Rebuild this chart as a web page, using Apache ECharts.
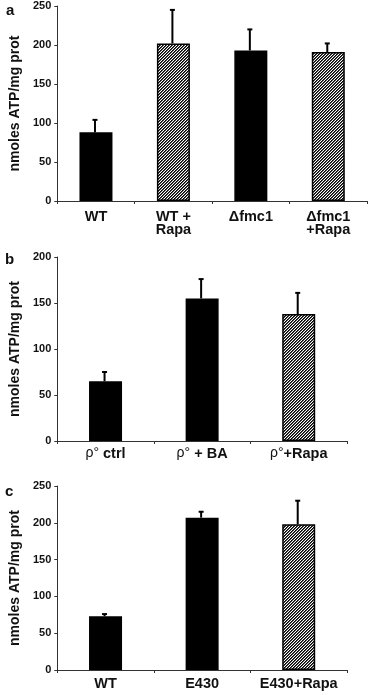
<!DOCTYPE html>
<html><head><meta charset="utf-8">
<script src="https://cdn.jsdelivr.net/npm/echarts@6/dist/echarts.min.js"></script>
<style>html,body{margin:0;padding:0;background:#fff}#c{width:369px;height:695px}</style>
</head><body><div id="c"></div>
<script>
// Panel a
var catsA = ['WT', 'WT +\nRapa', '\u0394fmc1', '\u0394fmc1\n+Rapa'];
var valsA = [88, 202, 193, 191];
var errA = [16, 43, 27, 11];
var hatchA = [false, true, false, true];
// Panel b
var catsB = ['{r|\u03c1\u00b0} ctrl', '{r|\u03c1\u00b0} + BA', '{r|\u03c1\u00b0}+Rapa'];
var valsB = [65, 155, 138];
var errB = [10, 21, 23];
var hatchB = [false, false, true];
// Panel c
var catsC = ['WT', 'E430', 'E430+Rapa'];
var valsC = [73, 207, 198];
var errC = [3, 8, 32];
var hatchC = [false, false, true];

var yMaxA = 250, yMaxB = 200, yMaxC = 250, yStep = 50;
var yTitle = 'nmoles ATP/mg prot';

// hatch pattern (upward diagonal)
var pc = document.createElement('canvas');
pc.width = 6; pc.height = 6;
var pctx = pc.getContext('2d');
var img = pctx.createImageData(6, 6);
for (var y = 0; y < 6; y++) for (var x = 0; x < 6; x++) {
  var m = (x + y) % 3;
  var v = m === 0 ? 0 : (m === 1 ? 80 : 255);
  var i = (y * 6 + x) * 4;
  img.data[i] = v; img.data[i+1] = v; img.data[i+2] = v; img.data[i+3] = 255;
}
pctx.putImageData(img, 0, 0);
var hatch = { image: pc, repeat: 'repeat' };

var font = 'Liberation Sans, Arial, sans-serif';
var grids = [
  { left: 52, width: 315, top: 6, height: 195 },
  { left: 53, width: 294, top: 257, height: 184 },
  { left: 53, width: 294, top: 486, height: 184 }
];
var allCats = [catsA, catsB, catsC];
var allVals = [valsA, valsB, valsC];
var allErr = [errA, errB, errC];
var allHatch = [hatchA, hatchB, hatchC];
var maxes = [yMaxA, yMaxB, yMaxC];
var margins = [9, 6, 7];

var xAxes = [], yAxes = [], series = [];
for (var k = 0; k < 3; k++) {
  xAxes.push({
    type: 'category', gridIndex: k, data: allCats[k],
    axisLine: { lineStyle: { color: '#333', width: 1 } },
    axisTick: { show: true, length: 3, interval: 0, lineStyle: { color: '#333' } },
    axisLabel: { interval: 0, hideOverlap: false, color: '#111', fontFamily: font, fontWeight: 'bold', fontSize: 14.5, lineHeight: 13, margin: margins[k],
      rich: { r: { fontFamily: font, fontWeight: 'normal', fontSize: 14, color: '#111' } } }
  });
  yAxes.push({
    type: 'value', gridIndex: k, min: 0, max: maxes[k], interval: yStep,
    name: yTitle, nameLocation: 'middle', nameGap: 32,
    nameTextStyle: { fontFamily: font, fontWeight: 'bold', fontSize: 14, color: '#111' },
    axisLine: { show: true, lineStyle: { color: '#333', width: 1 } },
    axisTick: { show: true, length: 3, lineStyle: { color: '#333' } },
    axisLabel: { color: '#111', fontFamily: font, fontWeight: 'bold', fontSize: 11, margin: 6 },
    splitLine: { show: false }
  });
  (function (k) {
    var data = allVals[k].map(function (v, i) {
      return { value: v, itemStyle: { color: allHatch[k][i] ? hatch : '#000', borderColor: '#000', borderWidth: 1.5 } };
    });
    series.push({ type: 'bar', xAxisIndex: k, yAxisIndex: k, data: data, barWidth: 33, z: 2 });
    var errData = allVals[k].map(function (v, i) { return [i, v, v + allErr[k][i]]; });
    series.push({
      type: 'custom', xAxisIndex: k, yAxisIndex: k, data: errData, z: 3,
      renderItem: function (params, api) {
        var p0 = api.coord([api.value(0), api.value(1)]);
        var p1 = api.coord([api.value(0), api.value(2)]);
        var cx = p0[0] - 1;
        return { type: 'group', children: [
          { type: 'line', shape: { x1: cx, y1: p0[1], x2: cx, y2: p1[1] }, style: { stroke: '#000', lineWidth: 2 } },
          { type: 'line', shape: { x1: cx - 2.5, y1: p1[1], x2: cx + 2.5, y2: p1[1] }, style: { stroke: '#000', lineWidth: 2 } }
        ]};
      }
    });
  })(k);
}

var chart = echarts.init(document.getElementById('c'), null, { renderer: 'canvas' });
chart.setOption({
  animation: false,
  backgroundColor: '#fff',
  title: [
    { text: 'a', left: 1, top: -2, textStyle: { fontFamily: font, fontWeight: 'bold', fontSize: 15, color: '#111' } },
    { text: 'b', left: 0, top: 247, textStyle: { fontFamily: font, fontWeight: 'bold', fontSize: 15, color: '#111' } },
    { text: 'c', left: 0, top: 479, textStyle: { fontFamily: font, fontWeight: 'bold', fontSize: 15, color: '#111' } }
  ],
  grid: grids, xAxis: xAxes, yAxis: yAxes, series: series
});
</script></body></html>
